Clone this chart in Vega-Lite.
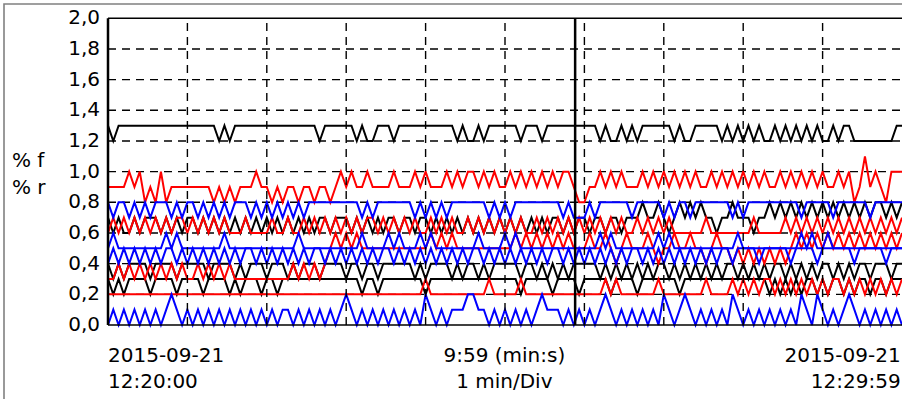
{
  "$schema": "https://vega.github.io/schema/vega-lite/v6.json",
  "width": 900,
  "height": 400,
  "padding": {"left": 4, "top": 4, "right": 0, "bottom": 0},
  "autosize": {"type": "none"},
  "background": "#ffffff",
  "config": {
    "view": {"stroke": "#808080", "strokeWidth": 1.6},
    "locale": {"number": {"decimal": ",", "thousands": ".", "grouping": [3], "currency": ["", " €"]}},
    "text": {"font": "DejaVu Sans", "fontSize": 20, "color": "#000000"}
  },
  "datasets": {
    "series": [
{"t":0,"a":1.3,"b":0.7,"c":0.4,"d":0.3,"e":0.9,"f":0.6,"g":0.3,"h":0.2,"i":0.8,"j":0.5,"k":0.4,"l":0},
{"t":4,"a":1.2,"b":0.6,"c":0.3,"d":0.2,"e":0.9,"f":0.7,"g":0.3,"h":0.2,"i":0.7,"j":0.6,"k":0.5,"l":0.1},
{"t":8,"a":1.3,"b":0.7,"c":0.4,"d":0.3,"e":0.9,"f":0.6,"g":0.4,"h":0.2,"i":0.8,"j":0.5,"k":0.4,"l":0},
{"t":12,"a":1.3,"b":0.6,"c":0.3,"d":0.2,"e":0.9,"f":0.7,"g":0.3,"h":0.2,"i":0.8,"j":0.5,"k":0.5,"l":0.1},
{"t":16,"a":1.3,"b":0.6,"c":0.4,"d":0.3,"e":1,"f":0.6,"g":0.4,"h":0.2,"i":0.7,"j":0.5,"k":0.4,"l":0},
{"t":20,"a":1.3,"b":0.7,"c":0.4,"d":0.3,"e":0.9,"f":0.7,"g":0.3,"h":0.2,"i":0.8,"j":0.5,"k":0.5,"l":0.1},
{"t":24,"a":1.3,"b":0.6,"c":0.4,"d":0.3,"e":1,"f":0.6,"g":0.4,"h":0.2,"i":0.7,"j":0.5,"k":0.4,"l":0},
{"t":28,"a":1.3,"b":0.7,"c":0.4,"d":0.3,"e":0.8,"f":0.7,"g":0.3,"h":0.2,"i":0.8,"j":0.5,"k":0.5,"l":0.1},
{"t":32,"a":1.3,"b":0.7,"c":0.3,"d":0.2,"e":0.9,"f":0.6,"g":0.4,"h":0.2,"i":0.7,"j":0.5,"k":0.4,"l":0},
{"t":36,"a":1.3,"b":0.7,"c":0.4,"d":0.3,"e":0.8,"f":0.7,"g":0.3,"h":0.2,"i":0.8,"j":0.5,"k":0.5,"l":0.1},
{"t":40,"a":1.3,"b":0.6,"c":0.4,"d":0.3,"e":1,"f":0.6,"g":0.4,"h":0.2,"i":0.8,"j":0.5,"k":0.4,"l":0},
{"t":44,"a":1.3,"b":0.7,"c":0.4,"d":0.3,"e":0.8,"f":0.7,"g":0.3,"h":0.2,"i":0.8,"j":0.6,"k":0.5,"l":0.1},
{"t":48,"a":1.3,"b":0.6,"c":0.4,"d":0.3,"e":0.9,"f":0.6,"g":0.4,"h":0.2,"i":0.7,"j":0.5,"k":0.5,"l":0.2},
{"t":52,"a":1.3,"b":0.7,"c":0.3,"d":0.2,"e":0.9,"f":0.7,"g":0.3,"h":0.2,"i":0.8,"j":0.6,"k":0.4,"l":0.1},
{"t":56,"a":1.3,"b":0.6,"c":0.4,"d":0.3,"e":0.9,"f":0.7,"g":0.4,"h":0.2,"i":0.7,"j":0.5,"k":0.5,"l":0},
{"t":60,"a":1.3,"b":0.7,"c":0.4,"d":0.3,"e":0.9,"f":0.6,"g":0.3,"h":0.2,"i":0.8,"j":0.5,"k":0.4,"l":0.1},
{"t":64,"a":1.3,"b":0.7,"c":0.4,"d":0.3,"e":0.9,"f":0.7,"g":0.3,"h":0.2,"i":0.8,"j":0.5,"k":0.5,"l":0},
{"t":68,"a":1.3,"b":0.6,"c":0.4,"d":0.3,"e":0.9,"f":0.6,"g":0.4,"h":0.2,"i":0.7,"j":0.5,"k":0.4,"l":0.1},
{"t":72,"a":1.3,"b":0.7,"c":0.4,"d":0.2,"e":0.9,"f":0.7,"g":0.3,"h":0.2,"i":0.8,"j":0.5,"k":0.5,"l":0},
{"t":76,"a":1.3,"b":0.6,"c":0.3,"d":0.3,"e":0.9,"f":0.6,"g":0.4,"h":0.2,"i":0.7,"j":0.5,"k":0.4,"l":0.1},
{"t":80,"a":1.3,"b":0.7,"c":0.4,"d":0.3,"e":0.8,"f":0.7,"g":0.3,"h":0.2,"i":0.8,"j":0.5,"k":0.5,"l":0},
{"t":84,"a":1.2,"b":0.6,"c":0.4,"d":0.3,"e":0.9,"f":0.6,"g":0.4,"h":0.2,"i":0.7,"j":0.5,"k":0.4,"l":0.1},
{"t":88,"a":1.3,"b":0.7,"c":0.4,"d":0.3,"e":0.8,"f":0.7,"g":0.3,"h":0.2,"i":0.8,"j":0.6,"k":0.5,"l":0},
{"t":92,"a":1.2,"b":0.6,"c":0.4,"d":0.2,"e":0.9,"f":0.6,"g":0.4,"h":0.2,"i":0.7,"j":0.5,"k":0.4,"l":0.1},
{"t":96,"a":1.3,"b":0.7,"c":0.3,"d":0.3,"e":0.8,"f":0.6,"g":0.3,"h":0.2,"i":0.8,"j":0.5,"k":0.5,"l":0},
{"t":100,"a":1.3,"b":0.6,"c":0.4,"d":0.2,"e":0.9,"f":0.6,"g":0.3,"h":0.2,"i":0.8,"j":0.5,"k":0.4,"l":0.1},
{"t":104,"a":1.3,"b":0.7,"c":0.3,"d":0.3,"e":0.9,"f":0.7,"g":0.3,"h":0.2,"i":0.8,"j":0.5,"k":0.5,"l":0},
{"t":108,"a":1.3,"b":0.6,"c":0.4,"d":0.3,"e":0.9,"f":0.6,"g":0.3,"h":0.2,"i":0.7,"j":0.5,"k":0.5,"l":0.1},
{"t":112,"a":1.3,"b":0.7,"c":0.4,"d":0.3,"e":1,"f":0.6,"g":0.3,"h":0.2,"i":0.8,"j":0.5,"k":0.4,"l":0},
{"t":116,"a":1.3,"b":0.6,"c":0.4,"d":0.2,"e":0.9,"f":0.6,"g":0.3,"h":0.2,"i":0.7,"j":0.5,"k":0.5,"l":0.1},
{"t":120,"a":1.3,"b":0.7,"c":0.3,"d":0.3,"e":0.9,"f":0.6,"g":0.3,"h":0.2,"i":0.8,"j":0.5,"k":0.4,"l":0},
{"t":124,"a":1.3,"b":0.6,"c":0.4,"d":0.3,"e":0.8,"f":0.7,"g":0.3,"h":0.2,"i":0.7,"j":0.5,"k":0.5,"l":0.1},
{"t":128,"a":1.3,"b":0.7,"c":0.4,"d":0.2,"e":0.9,"f":0.6,"g":0.3,"h":0.2,"i":0.8,"j":0.5,"k":0.4,"l":0},
{"t":132,"a":1.3,"b":0.6,"c":0.4,"d":0.3,"e":0.8,"f":0.6,"g":0.3,"h":0.2,"i":0.7,"j":0.5,"k":0.5,"l":0.1},
{"t":136,"a":1.3,"b":0.7,"c":0.3,"d":0.3,"e":0.9,"f":0.7,"g":0.3,"h":0.2,"i":0.8,"j":0.5,"k":0.4,"l":0.1},
{"t":140,"a":1.3,"b":0.6,"c":0.4,"d":0.3,"e":0.9,"f":0.6,"g":0.4,"h":0.2,"i":0.7,"j":0.5,"k":0.5,"l":0},
{"t":144,"a":1.3,"b":0.7,"c":0.3,"d":0.3,"e":0.8,"f":0.6,"g":0.3,"h":0.2,"i":0.8,"j":0.6,"k":0.4,"l":0.1},
{"t":148,"a":1.3,"b":0.6,"c":0.4,"d":0.3,"e":0.9,"f":0.7,"g":0.4,"h":0.2,"i":0.7,"j":0.5,"k":0.5,"l":0},
{"t":152,"a":1.3,"b":0.7,"c":0.4,"d":0.3,"e":0.9,"f":0.6,"g":0.3,"h":0.2,"i":0.8,"j":0.5,"k":0.4,"l":0.1},
{"t":156,"a":1.3,"b":0.6,"c":0.4,"d":0.3,"e":0.8,"f":0.7,"g":0.4,"h":0.2,"i":0.8,"j":0.5,"k":0.5,"l":0},
{"t":160,"a":1.2,"b":0.7,"c":0.3,"d":0.3,"e":0.9,"f":0.6,"g":0.3,"h":0.2,"i":0.8,"j":0.5,"k":0.5,"l":0.1},
{"t":164,"a":1.3,"b":0.7,"c":0.4,"d":0.3,"e":0.9,"f":0.7,"g":0.4,"h":0.2,"i":0.8,"j":0.5,"k":0.4,"l":0},
{"t":168,"a":1.3,"b":0.6,"c":0.4,"d":0.3,"e":0.8,"f":0.6,"g":0.5,"h":0.2,"i":0.8,"j":0.5,"k":0.5,"l":0.1},
{"t":172,"a":1.3,"b":0.7,"c":0.4,"d":0.3,"e":0.9,"f":0.7,"g":0.6,"h":0.2,"i":0.8,"j":0.5,"k":0.4,"l":0},
{"t":176,"a":1.3,"b":0.7,"c":0.4,"d":0.3,"e":1,"f":0.6,"g":0.5,"h":0.2,"i":0.8,"j":0.5,"k":0.5,"l":0.1},
{"t":180,"a":1.3,"b":0.7,"c":0.3,"d":0.3,"e":0.9,"f":0.7,"g":0.6,"h":0.2,"i":0.8,"j":0.5,"k":0.4,"l":0.2},
{"t":184,"a":1.3,"b":0.6,"c":0.4,"d":0.3,"e":1,"f":0.6,"g":0.5,"h":0.2,"i":0.8,"j":0.5,"k":0.5,"l":0.1},
{"t":188,"a":1.2,"b":0.7,"c":0.4,"d":0.3,"e":0.9,"f":0.7,"g":0.6,"h":0.2,"i":0.8,"j":0.5,"k":0.4,"l":0},
{"t":192,"a":1.3,"b":0.6,"c":0.3,"d":0.2,"e":0.9,"f":0.6,"g":0.5,"h":0.2,"i":0.7,"j":0.6,"k":0.5,"l":0.1},
{"t":196,"a":1.2,"b":0.7,"c":0.4,"d":0.3,"e":1,"f":0.7,"g":0.5,"h":0.2,"i":0.8,"j":0.5,"k":0.4,"l":0},
{"t":200,"a":1.2,"b":0.6,"c":0.4,"d":0.3,"e":0.9,"f":0.7,"g":0.5,"h":0.2,"i":0.7,"j":0.5,"k":0.5,"l":0.1},
{"t":204,"a":1.3,"b":0.7,"c":0.3,"d":0.2,"e":0.9,"f":0.6,"g":0.5,"h":0.2,"i":0.8,"j":0.5,"k":0.4,"l":0},
{"t":208,"a":1.3,"b":0.6,"c":0.4,"d":0.3,"e":0.9,"f":0.7,"g":0.5,"h":0.2,"i":0.8,"j":0.5,"k":0.5,"l":0.1},
{"t":212,"a":1.3,"b":0.7,"c":0.4,"d":0.3,"e":0.9,"f":0.6,"g":0.5,"h":0.2,"i":0.8,"j":0.6,"k":0.5,"l":0},
{"t":216,"a":1.2,"b":0.7,"c":0.4,"d":0.3,"e":1,"f":0.7,"g":0.5,"h":0.2,"i":0.8,"j":0.5,"k":0.4,"l":0.1},
{"t":220,"a":1.3,"b":0.6,"c":0.4,"d":0.3,"e":0.9,"f":0.6,"g":0.5,"h":0.2,"i":0.8,"j":0.6,"k":0.5,"l":0},
{"t":224,"a":1.3,"b":0.7,"c":0.4,"d":0.3,"e":0.9,"f":0.7,"g":0.5,"h":0.2,"i":0.8,"j":0.5,"k":0.4,"l":0.1},
{"t":228,"a":1.3,"b":0.7,"c":0.4,"d":0.3,"e":0.9,"f":0.6,"g":0.5,"h":0.2,"i":0.8,"j":0.5,"k":0.5,"l":0},
{"t":232,"a":1.3,"b":0.6,"c":0.3,"d":0.3,"e":1,"f":0.7,"g":0.5,"h":0.2,"i":0.7,"j":0.5,"k":0.4,"l":0.1},
{"t":236,"a":1.3,"b":0.7,"c":0.4,"d":0.3,"e":0.9,"f":0.6,"g":0.5,"h":0.2,"i":0.8,"j":0.6,"k":0.5,"l":0},
{"t":240,"a":1.3,"b":0.7,"c":0.3,"d":0.2,"e":1,"f":0.6,"g":0.5,"h":0.3,"i":0.7,"j":0.5,"k":0.4,"l":0.2},
{"t":244,"a":1.3,"b":0.6,"c":0.4,"d":0.3,"e":0.9,"f":0.7,"g":0.6,"h":0.2,"i":0.8,"j":0.6,"k":0.5,"l":0.1},
{"t":248,"a":1.3,"b":0.7,"c":0.4,"d":0.3,"e":0.9,"f":0.6,"g":0.5,"h":0.2,"i":0.7,"j":0.5,"k":0.4,"l":0},
{"t":252,"a":1.3,"b":0.6,"c":0.4,"d":0.3,"e":0.9,"f":0.7,"g":0.6,"h":0.2,"i":0.8,"j":0.5,"k":0.5,"l":0.1},
{"t":256,"a":1.3,"b":0.7,"c":0.4,"d":0.3,"e":1,"f":0.6,"g":0.5,"h":0.2,"i":0.7,"j":0.5,"k":0.4,"l":0},
{"t":260,"a":1.3,"b":0.6,"c":0.3,"d":0.3,"e":0.9,"f":0.7,"g":0.6,"h":0.2,"i":0.8,"j":0.5,"k":0.5,"l":0.1},
{"t":264,"a":1.2,"b":0.7,"c":0.4,"d":0.3,"e":1,"f":0.6,"g":0.5,"h":0.2,"i":0.8,"j":0.5,"k":0.4,"l":0.1},
{"t":268,"a":1.3,"b":0.6,"c":0.3,"d":0.3,"e":0.9,"f":0.6,"g":0.5,"h":0.2,"i":0.8,"j":0.5,"k":0.5,"l":0.1},
{"t":272,"a":1.2,"b":0.7,"c":0.4,"d":0.3,"e":1,"f":0.7,"g":0.5,"h":0.2,"i":0.8,"j":0.5,"k":0.4,"l":0.2},
{"t":276,"a":1.2,"b":0.6,"c":0.4,"d":0.3,"e":1,"f":0.6,"g":0.5,"h":0.2,"i":0.8,"j":0.5,"k":0.5,"l":0.2},
{"t":280,"a":1.3,"b":0.7,"c":0.3,"d":0.3,"e":0.9,"f":0.7,"g":0.5,"h":0.2,"i":0.8,"j":0.6,"k":0.5,"l":0.1},
{"t":284,"a":1.2,"b":0.6,"c":0.4,"d":0.3,"e":1,"f":0.6,"g":0.5,"h":0.2,"i":0.8,"j":0.5,"k":0.4,"l":0.1},
{"t":288,"a":1.3,"b":0.7,"c":0.3,"d":0.3,"e":0.9,"f":0.7,"g":0.5,"h":0.3,"i":0.7,"j":0.5,"k":0.5,"l":0},
{"t":292,"a":1.3,"b":0.6,"c":0.4,"d":0.3,"e":1,"f":0.6,"g":0.5,"h":0.2,"i":0.8,"j":0.5,"k":0.4,"l":0.1},
{"t":296,"a":1.3,"b":0.7,"c":0.4,"d":0.3,"e":0.9,"f":0.7,"g":0.5,"h":0.2,"i":0.7,"j":0.5,"k":0.5,"l":0},
{"t":300,"a":1.3,"b":0.6,"c":0.4,"d":0.3,"e":0.9,"f":0.6,"g":0.5,"h":0.2,"i":0.8,"j":0.6,"k":0.4,"l":0.1},
{"t":304,"a":1.3,"b":0.7,"c":0.4,"d":0.3,"e":1,"f":0.7,"g":0.5,"h":0.2,"i":0.7,"j":0.5,"k":0.5,"l":0},
{"t":308,"a":1.3,"b":0.6,"c":0.4,"d":0.3,"e":0.9,"f":0.6,"g":0.6,"h":0.2,"i":0.8,"j":0.6,"k":0.4,"l":0.1},
{"t":312,"a":1.2,"b":0.7,"c":0.3,"d":0.2,"e":1,"f":0.7,"g":0.5,"h":0.3,"i":0.8,"j":0.5,"k":0.5,"l":0},
{"t":316,"a":1.3,"b":0.6,"c":0.4,"d":0.3,"e":0.9,"f":0.6,"g":0.6,"h":0.2,"i":0.8,"j":0.5,"k":0.4,"l":0.1},
{"t":320,"a":1.3,"b":0.7,"c":0.4,"d":0.3,"e":1,"f":0.6,"g":0.5,"h":0.2,"i":0.8,"j":0.5,"k":0.5,"l":0},
{"t":324,"a":1.3,"b":0.6,"c":0.3,"d":0.3,"e":0.9,"f":0.7,"g":0.6,"h":0.2,"i":0.8,"j":0.5,"k":0.4,"l":0.1},
{"t":328,"a":1.2,"b":0.7,"c":0.4,"d":0.3,"e":1,"f":0.6,"g":0.5,"h":0.2,"i":0.8,"j":0.5,"k":0.5,"l":0.2},
{"t":332,"a":1.3,"b":0.6,"c":0.3,"d":0.3,"e":0.9,"f":0.7,"g":0.6,"h":0.2,"i":0.8,"j":0.5,"k":0.4,"l":0.1},
{"t":336,"a":1.3,"b":0.7,"c":0.4,"d":0.2,"e":1,"f":0.6,"g":0.5,"h":0.2,"i":0.8,"j":0.5,"k":0.5,"l":0.1},
{"t":340,"a":1.3,"b":0.7,"c":0.3,"d":0.3,"e":0.9,"f":0.7,"g":0.6,"h":0.2,"i":0.8,"j":0.5,"k":0.5,"l":0.1},
{"t":344,"a":1.3,"b":0.6,"c":0.4,"d":0.3,"e":1,"f":0.6,"g":0.5,"h":0.2,"i":0.7,"j":0.5,"k":0.4,"l":0},
{"t":348,"a":1.3,"b":0.7,"c":0.3,"d":0.3,"e":1,"f":0.7,"g":0.6,"h":0.2,"i":0.8,"j":0.5,"k":0.5,"l":0.1},
{"t":352,"a":1.3,"b":0.6,"c":0.4,"d":0.3,"e":0.9,"f":0.6,"g":0.5,"h":0.2,"i":0.7,"j":0.5,"k":0.4,"l":0},
{"t":356,"a":1.3,"b":0.7,"c":0.4,"d":0.2,"e":0.8,"f":0.7,"g":0.5,"h":0.2,"i":0.7,"j":0.5,"k":0.5,"l":0.1},
{"t":360,"a":1.3,"b":0.7,"c":0.4,"d":0.3,"e":0.8,"f":0.6,"g":0.5,"h":0.2,"i":0.7,"j":0.5,"k":0.4,"l":0},
{"t":364,"a":1.3,"b":0.6,"c":0.4,"d":0.3,"e":0.9,"f":0.7,"g":0.6,"h":0.2,"i":0.8,"j":0.5,"k":0.5,"l":0.1},
{"t":368,"a":1.3,"b":0.7,"c":0.4,"d":0.3,"e":0.9,"f":0.6,"g":0.5,"h":0.2,"i":0.7,"j":0.5,"k":0.4,"l":0},
{"t":372,"a":1.2,"b":0.7,"c":0.3,"d":0.3,"e":1,"f":0.7,"g":0.5,"h":0.2,"i":0.8,"j":0.6,"k":0.5,"l":0.1},
{"t":376,"a":1.3,"b":0.6,"c":0.4,"d":0.3,"e":0.9,"f":0.6,"g":0.6,"h":0.3,"i":0.8,"j":0.5,"k":0.4,"l":0.2},
{"t":380,"a":1.2,"b":0.7,"c":0.3,"d":0.2,"e":1,"f":0.7,"g":0.5,"h":0.2,"i":0.8,"j":0.6,"k":0.5,"l":0.1},
{"t":384,"a":1.2,"b":0.7,"c":0.4,"d":0.3,"e":0.9,"f":0.6,"g":0.4,"h":0.3,"i":0.8,"j":0.5,"k":0.4,"l":0},
{"t":388,"a":1.3,"b":0.6,"c":0.3,"d":0.3,"e":1,"f":0.7,"g":0.5,"h":0.2,"i":0.8,"j":0.5,"k":0.5,"l":0.1},
{"t":392,"a":1.2,"b":0.7,"c":0.4,"d":0.3,"e":0.9,"f":0.6,"g":0.6,"h":0.2,"i":0.8,"j":0.5,"k":0.4,"l":0},
{"t":396,"a":1.3,"b":0.7,"c":0.3,"d":0.3,"e":0.9,"f":0.6,"g":0.5,"h":0.2,"i":0.7,"j":0.5,"k":0.5,"l":0.1},
{"t":400,"a":1.2,"b":0.7,"c":0.4,"d":0.2,"e":0.9,"f":0.7,"g":0.5,"h":0.2,"i":0.8,"j":0.5,"k":0.5,"l":0},
{"t":404,"a":1.3,"b":0.8,"c":0.3,"d":0.3,"e":1,"f":0.6,"g":0.5,"h":0.2,"i":0.8,"j":0.5,"k":0.4,"l":0.1},
{"t":408,"a":1.3,"b":0.7,"c":0.4,"d":0.3,"e":0.9,"f":0.7,"g":0.6,"h":0.2,"i":0.8,"j":0.5,"k":0.5,"l":0},
{"t":412,"a":1.3,"b":0.7,"c":0.3,"d":0.3,"e":1,"f":0.6,"g":0.5,"h":0.2,"i":0.8,"j":0.5,"k":0.4,"l":0.1},
{"t":416,"a":1.3,"b":0.8,"c":0.4,"d":0.3,"e":0.9,"f":0.7,"g":0.4,"h":0.3,"i":0.8,"j":0.6,"k":0.5,"l":0},
{"t":420,"a":1.3,"b":0.7,"c":0.4,"d":0.3,"e":1,"f":0.6,"g":0.5,"h":0.2,"i":0.7,"j":0.5,"k":0.4,"l":0.2},
{"t":424,"a":1.3,"b":0.6,"c":0.3,"d":0.3,"e":0.9,"f":0.7,"g":0.5,"h":0.2,"i":0.8,"j":0.6,"k":0.5,"l":0.1},
{"t":428,"a":1.2,"b":0.7,"c":0.4,"d":0.3,"e":1,"f":0.6,"g":0.6,"h":0.2,"i":0.7,"j":0.5,"k":0.4,"l":0},
{"t":432,"a":1.3,"b":0.8,"c":0.3,"d":0.2,"e":0.9,"f":0.6,"g":0.5,"h":0.2,"i":0.8,"j":0.5,"k":0.5,"l":0.1},
{"t":436,"a":1.2,"b":0.7,"c":0.4,"d":0.3,"e":1,"f":0.6,"g":0.5,"h":0.2,"i":0.8,"j":0.5,"k":0.4,"l":0.2},
{"t":440,"a":1.2,"b":0.8,"c":0.3,"d":0.3,"e":0.9,"f":0.6,"g":0.6,"h":0.2,"i":0.7,"j":0.5,"k":0.5,"l":0.1},
{"t":444,"a":1.3,"b":0.7,"c":0.4,"d":0.3,"e":1,"f":0.6,"g":0.5,"h":0.2,"i":0.8,"j":0.5,"k":0.4,"l":0},
{"t":448,"a":1.3,"b":0.8,"c":0.3,"d":0.3,"e":0.9,"f":0.6,"g":0.5,"h":0.2,"i":0.8,"j":0.5,"k":0.5,"l":0.1},
{"t":452,"a":1.3,"b":0.7,"c":0.4,"d":0.3,"e":0.9,"f":0.7,"g":0.4,"h":0.3,"i":0.8,"j":0.5,"k":0.4,"l":0},
{"t":456,"a":1.3,"b":0.7,"c":0.3,"d":0.3,"e":1,"f":0.6,"g":0.5,"h":0.2,"i":0.8,"j":0.5,"k":0.5,"l":0.1},
{"t":460,"a":1.3,"b":0.6,"c":0.4,"d":0.3,"e":0.9,"f":0.6,"g":0.6,"h":0.2,"i":0.8,"j":0.5,"k":0.4,"l":0},
{"t":464,"a":1.2,"b":0.7,"c":0.3,"d":0.3,"e":1,"f":0.6,"g":0.5,"h":0.2,"i":0.8,"j":0.5,"k":0.5,"l":0.1},
{"t":468,"a":1.3,"b":0.7,"c":0.4,"d":0.3,"e":0.9,"f":0.6,"g":0.5,"h":0.2,"i":0.8,"j":0.5,"k":0.5,"l":0},
{"t":472,"a":1.2,"b":0.8,"c":0.4,"d":0.3,"e":1,"f":0.6,"g":0.4,"h":0.3,"i":0.7,"j":0.5,"k":0.4,"l":0.2},
{"t":476,"a":1.3,"b":0.7,"c":0.3,"d":0.3,"e":0.9,"f":0.6,"g":0.5,"h":0.2,"i":0.8,"j":0.6,"k":0.5,"l":0.1},
{"t":480,"a":1.2,"b":0.7,"c":0.4,"d":0.3,"e":1,"f":0.6,"g":0.4,"h":0.3,"i":0.7,"j":0.5,"k":0.5,"l":0},
{"t":484,"a":1.3,"b":0.7,"c":0.3,"d":0.3,"e":0.9,"f":0.6,"g":0.5,"h":0.2,"i":0.8,"j":0.5,"k":0.5,"l":0.1},
{"t":488,"a":1.2,"b":0.6,"c":0.4,"d":0.3,"e":1,"f":0.7,"g":0.4,"h":0.3,"i":0.8,"j":0.5,"k":0.5,"l":0},
{"t":492,"a":1.3,"b":0.7,"c":0.3,"d":0.3,"e":0.9,"f":0.6,"g":0.5,"h":0.2,"i":0.8,"j":0.5,"k":0.4,"l":0.1},
{"t":496,"a":1.2,"b":0.7,"c":0.4,"d":0.3,"e":1,"f":0.6,"g":0.4,"h":0.3,"i":0.8,"j":0.5,"k":0.5,"l":0},
{"t":500,"a":1.2,"b":0.8,"c":0.3,"d":0.2,"e":0.9,"f":0.6,"g":0.5,"h":0.3,"i":0.8,"j":0.5,"k":0.5,"l":0.1},
{"t":504,"a":1.3,"b":0.7,"c":0.4,"d":0.3,"e":0.9,"f":0.6,"g":0.4,"h":0.2,"i":0.8,"j":0.5,"k":0.5,"l":0},
{"t":508,"a":1.2,"b":0.8,"c":0.4,"d":0.2,"e":1,"f":0.6,"g":0.5,"h":0.3,"i":0.8,"j":0.5,"k":0.5,"l":0.1},
{"t":512,"a":1.3,"b":0.7,"c":0.3,"d":0.3,"e":0.9,"f":0.7,"g":0.4,"h":0.2,"i":0.8,"j":0.5,"k":0.5,"l":0},
{"t":516,"a":1.2,"b":0.8,"c":0.4,"d":0.2,"e":1,"f":0.6,"g":0.5,"h":0.3,"i":0.8,"j":0.5,"k":0.4,"l":0.1},
{"t":520,"a":1.3,"b":0.7,"c":0.3,"d":0.3,"e":0.9,"f":0.7,"g":0.6,"h":0.2,"i":0.8,"j":0.5,"k":0.5,"l":0},
{"t":524,"a":1.2,"b":0.8,"c":0.4,"d":0.2,"e":1,"f":0.6,"g":0.5,"h":0.3,"i":0.7,"j":0.6,"k":0.5,"l":0.2},
{"t":528,"a":1.3,"b":0.7,"c":0.3,"d":0.3,"e":0.9,"f":0.7,"g":0.6,"h":0.2,"i":0.8,"j":0.5,"k":0.5,"l":0.1},
{"t":532,"a":1.2,"b":0.8,"c":0.4,"d":0.3,"e":1,"f":0.6,"g":0.5,"h":0.3,"i":0.8,"j":0.6,"k":0.5,"l":0},
{"t":536,"a":1.3,"b":0.7,"c":0.3,"d":0.2,"e":0.9,"f":0.7,"g":0.6,"h":0.2,"i":0.8,"j":0.5,"k":0.4,"l":0.2},
{"t":540,"a":1.2,"b":0.8,"c":0.4,"d":0.3,"e":1,"f":0.6,"g":0.5,"h":0.3,"i":0.8,"j":0.5,"k":0.5,"l":0.1},
{"t":544,"a":1.2,"b":0.7,"c":0.4,"d":0.2,"e":0.9,"f":0.7,"g":0.6,"h":0.2,"i":0.8,"j":0.6,"k":0.5,"l":0},
{"t":548,"a":1.3,"b":0.8,"c":0.3,"d":0.3,"e":0.9,"f":0.6,"g":0.5,"h":0.3,"i":0.7,"j":0.5,"k":0.5,"l":0.1},
{"t":552,"a":1.2,"b":0.7,"c":0.4,"d":0.3,"e":1,"f":0.7,"g":0.6,"h":0.3,"i":0.8,"j":0.5,"k":0.5,"l":0},
{"t":556,"a":1.3,"b":0.8,"c":0.3,"d":0.2,"e":0.9,"f":0.6,"g":0.5,"h":0.2,"i":0.8,"j":0.5,"k":0.5,"l":0.1},
{"t":560,"a":1.3,"b":0.7,"c":0.4,"d":0.3,"e":1,"f":0.7,"g":0.6,"h":0.3,"i":0.8,"j":0.5,"k":0.5,"l":0.2},
{"t":564,"a":1.2,"b":0.8,"c":0.3,"d":0.2,"e":0.8,"f":0.6,"g":0.5,"h":0.2,"i":0.8,"j":0.5,"k":0.4,"l":0.1},
{"t":568,"a":1.2,"b":0.7,"c":0.4,"d":0.3,"e":0.9,"f":0.7,"g":0.6,"h":0.3,"i":0.8,"j":0.5,"k":0.5,"l":0},
{"t":572,"a":1.2,"b":0.8,"c":0.4,"d":0.3,"e":1.1,"f":0.6,"g":0.5,"h":0.2,"i":0.8,"j":0.5,"k":0.5,"l":0.1},
{"t":576,"a":1.2,"b":0.7,"c":0.3,"d":0.2,"e":0.9,"f":0.7,"g":0.6,"h":0.3,"i":0.7,"j":0.5,"k":0.5,"l":0},
{"t":580,"a":1.2,"b":0.8,"c":0.4,"d":0.3,"e":1,"f":0.6,"g":0.5,"h":0.2,"i":0.8,"j":0.5,"k":0.5,"l":0.1},
{"t":584,"a":1.2,"b":0.8,"c":0.4,"d":0.3,"e":0.9,"f":0.7,"g":0.6,"h":0.3,"i":0.8,"j":0.5,"k":0.5,"l":0},
{"t":588,"a":1.2,"b":0.7,"c":0.4,"d":0.2,"e":0.8,"f":0.6,"g":0.5,"h":0.2,"i":0.8,"j":0.5,"k":0.4,"l":0.1},
{"t":592,"a":1.2,"b":0.8,"c":0.3,"d":0.3,"e":1,"f":0.7,"g":0.6,"h":0.3,"i":0.8,"j":0.5,"k":0.5,"l":0},
{"t":596,"a":1.3,"b":0.7,"c":0.4,"d":0.3,"e":1,"f":0.6,"g":0.5,"h":0.2,"i":0.8,"j":0.5,"k":0.5,"l":0.1},
{"t":600,"a":1.3,"b":0.8,"c":0.4,"d":0.3,"e":1,"f":0.7,"g":0.6,"h":0.3,"i":0.8,"j":0.5,"k":0.5,"l":0}
    ],
    "hgrid": [{"v":0.2},{"v":0.4},{"v":0.6},{"v":0.8},{"v":1.0},{"v":1.2},{"v":1.4},{"v":1.6},{"v":1.8}],
    "yticks": [{"v":0},{"v":0.2},{"v":0.4},{"v":0.6},{"v":0.8},{"v":1.0},{"v":1.2},{"v":1.4},{"v":1.6},{"v":1.8},{"v":2.0}],
    "vgrid": [{"t":60},{"t":120},{"t":180},{"t":240},{"t":300},{"t":360},{"t":420},{"t":480},{"t":540}],
    "hframe": [{"v":0},{"v":2}],
    "vframe": [{"t":0},{"t":353}],
    "ytitle": [{"lab":["% f","% r"]}],
    "xstart": [{"t":0,"lab":["2015-09-21","12:20:00"]}],
    "xspan": [{"t":299.5,"lab":["9:59 (min:s)","1 min/Div"]}],
    "xend": [{"t":599,"lab":["2015-09-21","12:29:59"]}]
  },
  "layer": [
    {
      "data": {"name": "hgrid"},
      "mark": {"type": "rule", "color": "#000000", "strokeWidth": 1.4, "strokeDash": [8, 6]},
      "encoding": {
        "x": {"datum": 0, "type": "quantitative", "scale": {"domain": [0, 600], "range": [104, 898], "nice": false, "zero": false}, "axis": null},
        "x2": {"datum": 600},
        "y": {"field": "v", "type": "quantitative", "scale": {"domain": [0, 2], "range": [321, 14.3], "nice": false, "zero": false}, "axis": null}
      }
    },
    {
      "data": {"name": "series"},
      "transform": [
        {"fold": ["a", "b", "c", "d", "e", "f", "g", "h", "i", "j", "k", "l"], "as": ["key", "v"]}
      ],
      "mark": {"type": "line", "strokeWidth": 2, "interpolate": "linear"},
      "encoding": {
        "x": {"field": "t", "type": "quantitative", "scale": {"domain": [0, 600], "range": [104, 898], "nice": false, "zero": false}, "axis": null},
        "y": {"field": "v", "type": "quantitative", "scale": {"domain": [0, 2], "range": [321, 14.3], "nice": false, "zero": false}, "axis": null},
        "color": {
          "field": "key",
          "type": "nominal",
          "scale": {
            "domain": ["a", "b", "c", "d", "e", "f", "g", "h", "i", "j", "k", "l"],
            "range": ["#000000", "#000000", "#000000", "#000000", "#ff0000", "#ff0000", "#ff0000", "#ff0000", "#0000ff", "#0000ff", "#0000ff", "#0000ff"]
          },
          "legend": null
        }
      }
    },
    {
      "data": {"name": "vgrid"},
      "mark": {"type": "rule", "color": "#000000", "strokeWidth": 1.4, "strokeDash": [8, 6]},
      "encoding": {
        "x": {"field": "t", "type": "quantitative", "scale": {"domain": [0, 600], "range": [104, 898], "nice": false, "zero": false}, "axis": null},
        "y": {"datum": 0, "type": "quantitative", "scale": {"domain": [0, 2], "range": [321, 14.3], "nice": false, "zero": false}, "axis": null},
        "y2": {"datum": 2}
      }
    },
    {
      "data": {"name": "hframe"},
      "mark": {"type": "rule", "color": "#000000", "strokeWidth": 1.5},
      "encoding": {
        "x": {"datum": 0, "type": "quantitative", "scale": {"domain": [0, 600], "range": [104, 898], "nice": false, "zero": false}, "axis": null},
        "x2": {"datum": 600},
        "y": {"field": "v", "type": "quantitative", "scale": {"domain": [0, 2], "range": [321, 14.3], "nice": false, "zero": false}, "axis": null}
      }
    },
    {
      "data": {"name": "vframe"},
      "mark": {"type": "rule", "color": "#000000", "strokeWidth": 2.5},
      "encoding": {
        "x": {"field": "t", "type": "quantitative", "scale": {"domain": [0, 600], "range": [104, 898], "nice": false, "zero": false}, "axis": null},
        "y": {"datum": 0, "type": "quantitative", "scale": {"domain": [0, 2], "range": [321, 14.3], "nice": false, "zero": false}, "axis": null},
        "y2": {"datum": 2}
      }
    },
    {
      "data": {"name": "yticks"},
      "mark": {"type": "text", "align": "right", "baseline": "middle", "dx": -8},
      "encoding": {
        "x": {"datum": 0, "type": "quantitative", "scale": {"domain": [0, 600], "range": [104, 898], "nice": false, "zero": false}, "axis": null},
        "y": {"field": "v", "type": "quantitative", "scale": {"domain": [0, 2], "range": [321, 14.3], "nice": false, "zero": false}, "axis": null},
        "text": {"field": "v", "type": "quantitative", "format": ".1f"}
      }
    },
    {
      "data": {"name": "ytitle"},
      "mark": {"type": "text", "align": "left", "baseline": "middle", "dx": -96, "dy": -11, "lineHeight": 27},
      "encoding": {
        "x": {"datum": 0, "type": "quantitative", "scale": {"domain": [0, 600], "range": [104, 898], "nice": false, "zero": false}, "axis": null},
        "y": {"datum": 1.0, "type": "quantitative", "scale": {"domain": [0, 2], "range": [321, 14.3], "nice": false, "zero": false}, "axis": null},
        "text": {"field": "lab", "type": "nominal"}
      }
    },
    {
      "data": {"name": "xstart"},
      "mark": {"type": "text", "align": "left", "baseline": "top", "dy": 21, "lineHeight": 26},
      "encoding": {
        "x": {"field": "t", "type": "quantitative", "scale": {"domain": [0, 600], "range": [104, 898], "nice": false, "zero": false}, "axis": null},
        "y": {"datum": 0, "type": "quantitative", "scale": {"domain": [0, 2], "range": [321, 14.3], "nice": false, "zero": false}, "axis": null},
        "text": {"field": "lab", "type": "nominal"}
      }
    },
    {
      "data": {"name": "xspan"},
      "mark": {"type": "text", "align": "center", "baseline": "top", "dy": 21, "lineHeight": 26},
      "encoding": {
        "x": {"field": "t", "type": "quantitative", "scale": {"domain": [0, 600], "range": [104, 898], "nice": false, "zero": false}, "axis": null},
        "y": {"datum": 0, "type": "quantitative", "scale": {"domain": [0, 2], "range": [321, 14.3], "nice": false, "zero": false}, "axis": null},
        "text": {"field": "lab", "type": "nominal"}
      }
    },
    {
      "data": {"name": "xend"},
      "mark": {"type": "text", "align": "right", "baseline": "top", "dy": 21, "lineHeight": 26},
      "encoding": {
        "x": {"field": "t", "type": "quantitative", "scale": {"domain": [0, 600], "range": [104, 898], "nice": false, "zero": false}, "axis": null},
        "y": {"datum": 0, "type": "quantitative", "scale": {"domain": [0, 2], "range": [321, 14.3], "nice": false, "zero": false}, "axis": null},
        "text": {"field": "lab", "type": "nominal"}
      }
    }
  ]
}
